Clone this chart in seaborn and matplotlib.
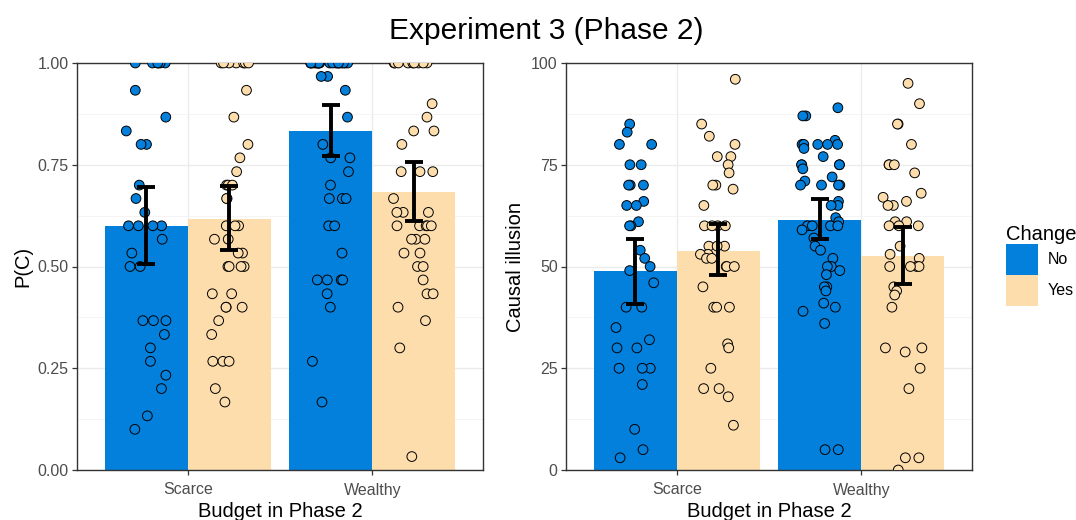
import numpy as np
import pandas as pd
import seaborn as sns
import matplotlib.pyplot as plt
from matplotlib.patches import Patch
from matplotlib.collections import PathCollection
from matplotlib.ticker import MultipleLocator

budgets = ["Scarce", "Wealthy"]
changes = ["No", "Yes"]
colors = {"No": "#0380DB", "Yes": "#FDDDAB"}

# participant values, P(C)
pc_scarce_no = [1, 1, 1, 1, 1, 1, .933, .867, .833, .8, .8, .7, .667, .633, .6, .6, .6, .6,
                .567, .533, .5, .5, .367, .367, .367, .333, .3, .267, .233, .2, .133, .1]
pc_scarce_yes = [1, 1, 1, 1, 1, 1, 1, .933, .867, .8, .767, .733, .7, .7, .7, .667, .667,
                 .6, .6, .6, .567, .567, .533, .533, .5, .5, .5, .5, .433, .433, .4, .4, .4,
                 .367, .333, .267, .267, .267, .2, .167]
pc_wealthy_no = [1] * 20 + [.967, .967, .933, .867, .8, .767, .767, .733, .7, .667, .667, .667,
                            .6, .6, .533, .467, .467, .467, .467, .433, .4, .267, .167]
pc_wealthy_yes = [1] * 9 + [.9, .867, .833, .833, .8, .733, .733, .733, .667, .633, .633, .633,
                            .6, .6, .6, .6, .6, .567, .567, .567, .533, .533, .5, .5, .467,
                            .433, .433, .4, .367, .3, .033]

# participant values, causal illusion
ci_scarce_no = [85, 83, 80, 80, 75, 75, 70, 70, 70, 66, 65, 65, 61, 60, 60, 54, 52, 50, 49, 46,
                40, 40, 35, 32, 30, 30, 25, 25, 25, 21, 10, 5, 3]
ci_scarce_yes = [96, 85, 82, 80, 77, 77, 75, 73, 70, 70, 69, 65, 60, 60, 60, 60, 55, 55, 55, 53,
                 53, 52, 52, 50, 50, 50, 45, 40, 40, 40, 31, 30, 25, 20, 20, 18, 11]
ci_wealthy_no = [89, 87, 87, 81, 80, 80, 80, 80, 80, 79, 77, 75, 75, 75, 75, 74, 72, 71, 70, 70,
                 70, 70, 66, 65, 65, 62, 61, 60, 60, 60, 60, 59, 57, 55, 54, 52, 50, 50, 49, 48,
                 45, 45, 44, 41, 40, 39, 36, 5, 5]
ci_wealthy_yes = [95, 90, 85, 85, 80, 75, 75, 75, 73, 68, 67, 66, 65, 65, 61, 61, 60, 60, 60, 55,
                  53, 52, 50, 50, 50, 50, 45, 44, 43, 40, 30, 30, 29, 25, 20, 3, 3, 0]

# group means and 95% CI (Scarce-No, Scarce-Yes, Wealthy-No, Wealthy-Yes)
pc_mean = [0.600, 0.617, 0.833, 0.682]
pc_low = [0.506, 0.541, 0.771, 0.613]
pc_high = [0.696, 0.698, 0.898, 0.756]
ci_mean = [48.9, 53.9, 61.5, 52.5]
ci_low = [40.9, 47.9, 56.8, 45.6]
ci_high = [56.8, 60.4, 66.6, 59.8]


def long_table(groups):
    rows = []
    for (b, c), vals in groups:
        for v in vals:
            rows.append((b, c, v))
    return pd.DataFrame(rows, columns=["Budget", "Change", "value"])


def summary_table(mean, low, high):
    return pd.DataFrame({"Budget": ["Scarce", "Scarce", "Wealthy", "Wealthy"],
                         "Change": ["No", "Yes", "No", "Yes"],
                         "mean": mean, "low": low, "high": high})


pc_points = long_table([(("Scarce", "No"), pc_scarce_no), (("Scarce", "Yes"), pc_scarce_yes),
                        (("Wealthy", "No"), pc_wealthy_no), (("Wealthy", "Yes"), pc_wealthy_yes)])
ci_points = long_table([(("Scarce", "No"), ci_scarce_no), (("Scarce", "Yes"), ci_scarce_yes),
                        (("Wealthy", "No"), ci_wealthy_no), (("Wealthy", "Yes"), ci_wealthy_yes)])
pc_summary = summary_table(pc_mean, pc_low, pc_high)
ci_summary = summary_table(ci_mean, ci_low, ci_high)

sns.set_theme(style="white")
plt.rcParams["font.family"] = ["Liberation Sans", "DejaVu Sans"]
plt.rcParams["text.color"] = "black"
plt.rcParams["axes.labelcolor"] = "black"


def draw_panel(ax, points, summary, ylabel, ymax, ticklabels):
    sns.barplot(data=summary, x="Budget", y="mean", hue="Change", order=budgets,
                hue_order=changes, palette=colors, width=0.9, saturation=1, errorbar=None,
                legend=False, linewidth=0, ax=ax)
    sns.stripplot(data=points, x="Budget", y="value", hue="Change", order=budgets,
                  hue_order=changes, palette=colors, dodge=True, jitter=0.22, size=7,
                  edgecolor="black", linewidth=0.7, legend=False, ax=ax)
    # line the point clouds up with the bar centres (bars are dodged by 0.225)
    for coll in ax.collections:
        if isinstance(coll, PathCollection):
            off = coll.get_offsets().copy()
            if len(off):
                side = np.sign(off[:, 0] - np.round(off[:, 0]))
                off[:, 0] = off[:, 0] + side * 0.025
                coll.set_offsets(off)

    bars = sorted(ax.patches, key=lambda p: p.get_x())
    xs = [p.get_x() + p.get_width() / 2 for p in bars]
    ax.errorbar(xs, summary["mean"],
                yerr=[summary["mean"] - summary["low"], summary["high"] - summary["mean"]],
                fmt="none", ecolor="black", elinewidth=2.8, capsize=6.5, capthick=2.8, zorder=5)

    ax.set_xlim(-0.6, 1.6)
    ax.set_ylim(0, ymax)
    ax.set_yticks(np.linspace(0, ymax, 5))
    ax.set_yticklabels(ticklabels)
    ax.yaxis.set_minor_locator(MultipleLocator(ymax / 8))
    ax.set_axisbelow(True)
    ax.grid(which="major", color="#EBEBEB", linewidth=1.0)
    ax.grid(which="minor", axis="y", color="#F2F2F2", linewidth=0.6)
    for s in ax.spines.values():
        s.set_color("#333333")
        s.set_linewidth(1.0)
    ax.tick_params(which="major", length=3.5, width=0.9, color="#333333", labelcolor="#4D4D4D",
                   labelsize=11.5, pad=2.5, left=True, bottom=True)
    ax.tick_params(axis="x", pad=5.5)
    ax.tick_params(which="minor", length=0)
    ax.set_xlabel("Budget in Phase 2", fontsize=14.5, labelpad=3.5)
    ax.set_ylabel(ylabel, fontsize=14.5, labelpad=4)


fig = plt.figure(figsize=(10.76, 5.2), dpi=100)
ax1 = fig.add_axes([77 / 1076, 50 / 520, 406 / 1076, 407 / 520])
ax2 = fig.add_axes([566 / 1076, 50 / 520, 406 / 1076, 407 / 520])

draw_panel(ax1, pc_points, pc_summary, "P(C)", 1.0, ["0.00", "0.25", "0.50", "0.75", "1.00"])
draw_panel(ax2, ci_points, ci_summary, "Causal illusion", 100, ["0", "25", "50", "75", "100"])

fig.suptitle("Experiment 3 (Phase 2)", x=0.508, y=0.94, va="center", fontsize=21.5,
             color="black")

handles = [Patch(facecolor=colors[c], edgecolor="none", label=c) for c in changes]
leg = fig.legend(handles=handles, title="Change", loc="center left",
                 bbox_to_anchor=(0.925, 0.49), frameon=False, fontsize=11.5,
                 title_fontsize=14.5, handlelength=2.0, handleheight=2.62,
                 labelspacing=0.0, handletextpad=0.6, borderpad=0.2)
leg._legend_box.align = "left"

fig.savefig("out.png", dpi=100)
